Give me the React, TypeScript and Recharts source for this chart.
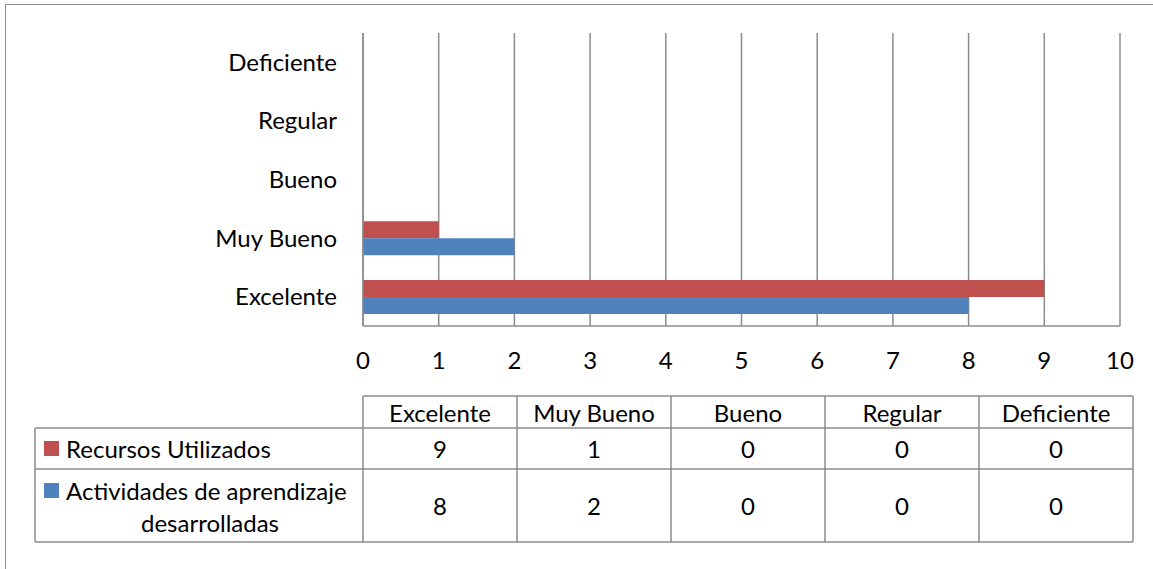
import React from 'react';
import { BarChart, Bar, XAxis, YAxis, CartesianGrid } from 'recharts';

// Rating categories, in table order (first one is drawn at the bottom of the chart)
const categories = ['Excelente', 'Muy Bueno', 'Bueno', 'Regular', 'Deficiente'];

// Series values per category
const recursosUtilizados = [9, 1, 0, 0, 0];
const actividadesDesarrolladas = [8, 2, 0, 0, 0];

// Value axis ticks
const xTicks = [0, 1, 2, 3, 4, 5, 6, 7, 8, 9, 10];

// Series names
const seriesNames = ['Recursos Utilizados', 'Actividades de aprendizaje desarrolladas'];
const seriesColors = ['#C0504D', '#4F81BD'];

const rows = categories.map((name, i) => ({
  name,
  recursos: recursosUtilizados[i],
  actividades: actividadesDesarrolladas[i],
}));

const FONT = 'Lato, "Open Sans", sans-serif';
const FONT_SIZE = 24;
const GRID = '#8c8c8c';

const W = 1153;
const H = 569;

// Layout of the data table under the chart
const tableLeft = 35;
const colStart = 363;
const colWidth = 154;
const headerTop = 396;
const row1Top = 428;
const row2Top = 469;
const tableBottom = 542;

function DataTable() {
  const colRight = colStart + colWidth * categories.length;
  const textProps = {
    fontFamily: FONT,
    fontSize: FONT_SIZE,
    fill: '#000',
    dominantBaseline: 'central' as const,
  };
  const lineProps = { stroke: GRID, strokeWidth: 1.5 };
  return (
    <svg
      width={W}
      height={H}
      style={{ position: 'absolute', left: 0, top: 0, pointerEvents: 'none' }}
    >
      {/* horizontal rules */}
      <line x1={colStart} y1={headerTop} x2={colRight} y2={headerTop} {...lineProps} />
      <line x1={tableLeft} y1={row1Top} x2={colRight} y2={row1Top} {...lineProps} />
      <line x1={tableLeft} y1={row2Top} x2={colRight} y2={row2Top} {...lineProps} />
      <line x1={tableLeft} y1={tableBottom} x2={colRight} y2={tableBottom} {...lineProps} />
      {/* vertical rules */}
      <line x1={tableLeft} y1={row1Top} x2={tableLeft} y2={tableBottom} {...lineProps} />
      {categories.map((_, i) => (
        <line
          key={'v' + i}
          x1={colStart + colWidth * i}
          y1={i === 0 ? headerTop : headerTop}
          x2={colStart + colWidth * i}
          y2={tableBottom}
          {...lineProps}
        />
      ))}
      <line x1={colRight} y1={headerTop} x2={colRight} y2={tableBottom} {...lineProps} />

      {/* header */}
      {categories.map((c, i) => (
        <text
          key={'h' + i}
          x={colStart + colWidth * i + colWidth / 2}
          y={(headerTop + row1Top) / 2}
          textAnchor="middle"
          {...textProps}
        >
          {c}
        </text>
      ))}

      {/* row 1: Recursos Utilizados */}
      <rect x={44} y={441} width={15} height={15} fill={seriesColors[0]} />
      <text x={66} y={(row1Top + row2Top) / 2} textAnchor="start" {...textProps}>
        {seriesNames[0]}
      </text>
      {recursosUtilizados.map((v, i) => (
        <text
          key={'r' + i}
          x={colStart + colWidth * i + colWidth / 2}
          y={(row1Top + row2Top) / 2}
          textAnchor="middle"
          {...textProps}
        >
          {v}
        </text>
      ))}

      {/* row 2: Actividades de aprendizaje desarrolladas */}
      <rect x={44} y={483} width={15} height={15} fill={seriesColors[1]} />
      <text x={66} y={490} textAnchor="start" {...textProps}>
        Actividades de aprendizaje
      </text>
      <text x={210} y={522} textAnchor="middle" {...textProps}>
        desarrolladas
      </text>
      {actividadesDesarrolladas.map((v, i) => (
        <text
          key={'a' + i}
          x={colStart + colWidth * i + colWidth / 2}
          y={(row2Top + tableBottom) / 2}
          textAnchor="middle"
          {...textProps}
        >
          {v}
        </text>
      ))}
    </svg>
  );
}

export default function App() {
  return (
    <div
      style={{
        position: 'absolute',
        left: 0,
        top: 0,
        width: W,
        height: H,
        background: '#fff',
        overflow: 'hidden',
      }}
    >
      {/* outer chart-area frame (left and top edges visible) */}
      <div
        style={{
          position: 'absolute',
          left: 5,
          top: 4,
          width: W + 20,
          height: H + 20,
          border: '1.5px solid #8c8c8c',
          boxSizing: 'border-box',
        }}
      />
      <BarChart
        width={W}
        height={H}
        data={rows}
        layout="vertical"
        margin={{ top: 33, right: 33, bottom: 203, left: 33 }}
        barCategoryGap={12.5}
        barGap={0}
        style={{ position: 'absolute', left: 0, top: 0 }}
      >
        <CartesianGrid horizontal={false} vertical={true} stroke={GRID} strokeWidth={1.5} />
        <XAxis
          type="number"
          domain={[0, 10]}
          ticks={xTicks}
          interval={0}
          height={40}
          axisLine={{ stroke: GRID, strokeWidth: 1.5 }}
          tickLine={false}
          tickSize={0}
          tickMargin={26}
          tick={{ fontFamily: FONT, fontSize: FONT_SIZE, fill: '#000' }}
        />
        <YAxis
          type="category"
          dataKey="name"
          reversed
          width={330}
          axisLine={{ stroke: GRID, strokeWidth: 1.5 }}
          tickLine={false}
          tickSize={0}
          tickMargin={26}
          interval={0}
          tick={{ fontFamily: FONT, fontSize: FONT_SIZE, fill: '#000' }}
        />
        <Bar dataKey="recursos" name={seriesNames[0]} fill={seriesColors[0]} isAnimationActive={false} />
        <Bar dataKey="actividades" name={seriesNames[1]} fill={seriesColors[1]} isAnimationActive={false} />
      </BarChart>
      <DataTable />
    </div>
  );
}
